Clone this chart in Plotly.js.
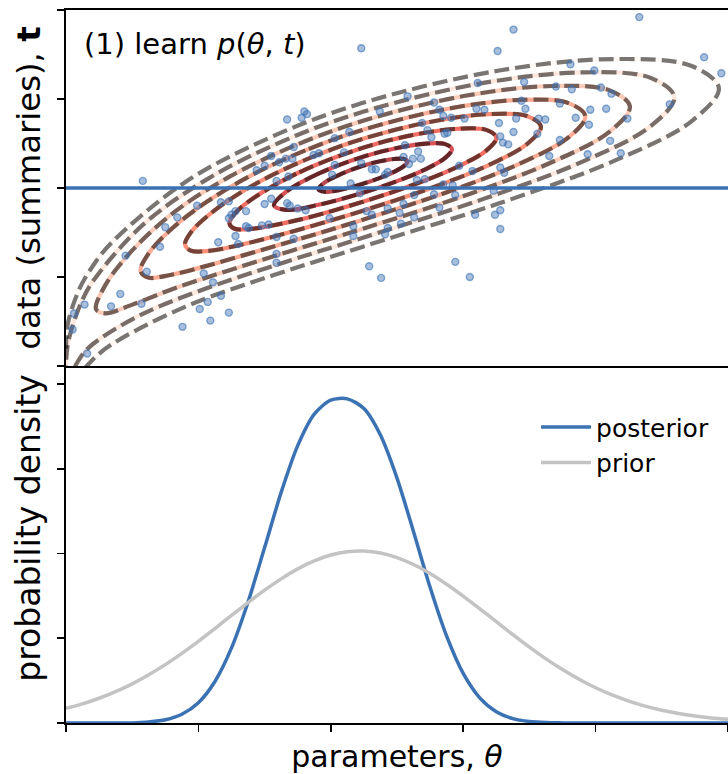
<!DOCTYPE html>
<html>
<head>
<meta charset="utf-8">
<script src="https://cdn.plot.ly/plotly-3.0.1.min.js"></script>
<style>html,body{margin:0;padding:0;background:#fff;}#chart{width:728px;height:774px;}</style>
</head>
<body>
<div id="chart"></div>
<script>
// ---- bottom panel: densities over the parameter grid ----
const thetaGrid = [0,0.125,0.25,0.375,0.5,0.625,0.75,0.875,1,1.125,1.25,1.375,1.5,1.625,1.75,1.875,2,2.125,2.25,2.375,2.5,
  2.625,2.75,2.875,3,3.125,3.25,3.375,3.5,3.625,3.75,3.875,4,4.125,4.25,4.375,4.5,4.625,4.75,4.875,5];
const posterior = [0,0,0,0,0.001,0.013,0.039,0.104,0.240,0.490,0.886,1.428,2.070,2.721,3.273,3.645,3.810,3.825,3.711,3.398,2.890,
  2.257,1.601,1.024,0.585,0.297,0.133,0.052,0.018,0.005,0.0013,0,0,0,0,0,0,0,0,0,0];
const prior = [0.173,0.226,0.292,0.370,0.462,0.569,0.689,0.822,0.964,1.115,1.269,1.421,1.567,1.701,1.819,1.913,1.982,2.021,2.029,2.006,1.952,
  1.870,1.765,1.638,1.498,1.348,1.195,1.042,0.895,0.757,0.630,0.516,0.416,0.331,0.259,0.199,0.151,0.113,0.083,0.060,0.043];

// ---- top panel: observed summary ----
const tObsTheta = [0,5];
const tObs = [2,2];

// ---- top panel: simulated samples (theta, t) ----
const sampleTheta = [2.23,1.67,1.78,1.80,1.82,0.58,2.37,1.55,1.61,1.66,1.71,1.72,1.87,1.91,2.03,2.10,2.14,2.03,2.31,2.34,2.41,2.43,1.44,1.50,1.59,1.68,2.01,2.15,2.23,
 4.33,3.38,3.26,4.82,4.95,3.81,3.99,2.58,3.11,3.46,3.70,3.82,4.04,4.12,2.78,2.82,2.85,2.91,3.10,3.16,3.44,3.47,3.73,3.96,4.08,4.56,3.01,3.27,3.40,3.57,3.62,3.85,3.95,4.24,
 2.69,2.73,2.76,2.86,2.88,3.28,3.30,3.34,3.38,3.56,3.73,2.56,2.66,2.68,2.62,2.55,2.59,3.65,3.94,4.11,4.19,2.97,3.07,3.28,3.31,2.65,2.71,2.85,2.92,
 0.99,1.17,1.23,1.28,1.23,1.25,1.36,1.50,1.55,1.67,1.69,1.75,1.81,0.84,0.75,0.71,0.45,1.15,1.28,1.30,1.36,1.38,1.48,1.53,1.59,1.72,1.99,2.22,2.27,2.31,2.43,2.17,2.17,2.41,2.43,
 1.59,1.59,1.04,1.11,1.17,1.07,1.01,1.09,1.23,0.88,0.61,0.41,0.57,0.34,0.14,0.06,0.05,0.16,2.29,2.38,3.23,3.28,3.24,3.09,3.28,2.94,3.05,2.78,2.94,2.55,2.52,2.63,2.82,2.53,2.63];
const sampleT = [3.57,2.77,2.79,2.86,2.83,2.08,2.86,2.36,2.29,2.33,2.33,2.46,2.37,2.39,2.56,2.40,2.63,2.26,2.21,2.21,2.15,2.18,2.20,2.25,2.08,2.13,2.15,2.05,2.28,
 3.92,3.78,3.54,3.47,3.29,3.39,3.32,3.03,3.18,3.19,3.14,3.11,3.13,3.06,2.96,2.88,2.81,2.79,2.89,2.88,2.98,2.89,2.95,2.88,2.89,2.94,2.78,2.73,2.78,2.78,2.77,2.79,2.71,2.78,
 2.73,2.65,2.57,2.61,2.62,2.58,2.51,2.49,2.63,2.61,2.54,2.48,2.41,2.33,2.33,2.35,2.27,2.36,2.38,2.53,2.39,2.25,2.19,2.23,2.17,2.09,2.10,2.04,2.03,
 1.80,1.84,1.85,1.74,1.66,1.70,1.74,1.82,1.88,1.83,1.80,1.77,1.75,1.67,1.56,1.34,1.24,1.39,1.46,1.37,1.57,1.55,1.58,1.59,1.45,1.43,1.66,1.94,1.74,1.70,1.77,1.57,1.46,1.48,1.55,
 1.26,1.16,1.04,0.94,0.79,0.72,0.64,0.51,0.60,0.44,1.06,0.81,0.70,0.67,0.69,0.59,0.41,0.14,1.12,0.99,1.97,1.75,1.70,1.70,1.54,1.17,1.00,1.93,1.92,1.82,1.72,1.67,1.78,1.60,1.92];

// ---- top panel: density contour lines of p(theta, t), innermost first ----
const contour1Theta = [2.243,2.075,1.952,1.907,1.952,2.075,2.243,2.372,2.481,2.553,2.579,2.553,2.481,2.372,2.243];
const contour1T     = [2.250,2.156,2.060,1.986,1.958,1.981,2.048,2.114,2.184,2.248,2.298,2.326,2.326,2.300,2.250];
const contour2Theta = [2.243,1.907,1.661,1.571,1.661,1.907,2.243,2.500,2.718,2.864,2.915,2.864,2.718,2.500,2.243];
const contour2T     = [2.351,2.161,1.956,1.805,1.754,1.811,1.947,2.077,2.213,2.339,2.436,2.493,2.499,2.450,2.351];
const contour3Theta = [2.243,1.739,1.370,1.269,1.235,1.269,1.370,1.739,2.243,2.629,2.956,3.174,3.251,3.174,2.956,2.629,2.243];
const contour3T     = [2.452,2.160,1.839,1.701,1.602,1.545,1.536,1.636,1.846,2.039,2.238,2.421,2.566,2.653,2.666,2.599,2.452];
const contour4Theta = [2.243,1.895,1.571,1.293,1.079,0.945,0.899,0.945,1.079,1.293,1.571,1.895,2.243,2.757,3.193,3.485,3.587,3.485,3.193,2.757,2.243];
const contour4T     = [2.553,2.369,2.155,1.925,1.698,1.505,1.365,1.295,1.294,1.353,1.455,1.589,1.745,1.999,2.258,2.497,2.689,2.807,2.830,2.745,2.553];
const contour5Theta = [2.243,1.808,1.403,1.055,0.788,0.620,0.563,0.620,0.788,1.055,1.403,1.808,2.243,2.886,3.431,3.795,3.923,3.795,3.431,2.886,2.243];
const contour5T     = [2.654,2.423,2.145,1.836,1.528,1.256,1.068,0.994,1.023,1.122,1.271,1.447,1.644,1.957,2.276,2.568,2.805,2.954,2.990,2.891,2.654];
const contour6Theta = [2.243,1.721,1.235,0.817,0.497,0.296,0.227,0.296,0.497,0.817,1.235,1.721,2.243,3.015,3.668,4.106,4.259,4.106,3.668,3.015,2.243];
const contour6T     = [2.755,2.473,2.127,1.728,1.293,0.906,0.637,0.592,0.687,0.871,1.077,1.303,1.543,1.916,2.289,2.633,2.915,3.097,3.146,3.036,2.755];
const contour7Theta = [0,0.005,0.02,0.111,0.206,0.580,1.067,1.634,2.243,3.143,3.906,4.416,4.595,4.416,3.906,3.143,2.243,1.634,1.067,0.580,0.206,0.111,0.02,0.005,0];
const contour7T     = [-0.462,-0.296,-0.169,0.102,0.250,0.585,0.876,1.158,1.442,1.872,2.299,2.695,3.021,3.237,3.299,3.178,2.856,2.524,2.100,1.585,0.957,0.700,0.293,0.138,-0.036];
const contour8Theta = [0,0.005,0.02,0.1,0.2,0.342,0.899,1.547,2.243,3.272,4.144,4.726,4.931,4.726,4.144,3.272,2.243,1.547,0.899,0.342,0.2,0.1,0.02,0.005,0];
const contour8T     = [-0.694,-0.527,-0.392,-0.113,0.068,0.240,0.665,1.011,1.341,1.828,2.307,2.752,3.123,3.370,3.449,3.320,2.957,2.571,2.065,1.382,1.118,0.863,0.516,0.369,0.196];

const contourThetas = [contour1Theta,contour2Theta,contour3Theta,contour4Theta,contour5Theta,contour6Theta,contour7Theta,contour8Theta];
const contourTs = [contour1T,contour2T,contour3T,contour4T,contour5T,contour6T,contour7T,contour8T];
const contourColors = ['#a50f15','#cb181d','#ef3b2c','#fb6a4a','#fc9272','#fcbba1','#fee0d2','#fff5f0'];

const BLUE = '#3b72b4';
const traces = [];
contourThetas.forEach((cx, i) => {
  traces.push({x: cx, y: contourTs[i], xaxis: 'x2', yaxis: 'y2', type: 'scatter', mode: 'lines',
    line: {color: contourColors[i], width: 4.2, shape: 'spline', smoothing: 1}, opacity: 0.75,
    showlegend: false, hoverinfo: 'skip'});
});
contourThetas.forEach((cx, i) => {
  traces.push({x: cx, y: contourTs[i], xaxis: 'x2', yaxis: 'y2', type: 'scatter', mode: 'lines',
    line: {color: 'rgba(0,0,0,0.53)', width: 4.2, dash: '15px,6px', shape: 'spline', smoothing: 1},
    showlegend: false, hoverinfo: 'skip'});
});
traces.push({x: sampleTheta, y: sampleT, xaxis: 'x2', yaxis: 'y2', type: 'scatter', mode: 'markers',
  marker: {size: 7, color: 'rgba(59,114,180,0.45)', line: {color: 'rgba(59,114,180,0.6)', width: 1.4}},
  showlegend: false});
traces.push({x: tObsTheta, y: tObs, xaxis: 'x2', yaxis: 'y2', type: 'scatter', mode: 'lines',
  line: {color: BLUE, width: 3.5}, showlegend: false});

traces.push({x: thetaGrid, y: posterior, xaxis: 'x', yaxis: 'y', type: 'scatter', mode: 'lines',
  name: 'posterior', line: {color: BLUE, width: 3.5, shape: 'spline', smoothing: 0.8}});
traces.push({x: thetaGrid, y: prior, xaxis: 'x', yaxis: 'y', type: 'scatter', mode: 'lines',
  name: 'prior', line: {color: '#c3c3c3', width: 3.5, shape: 'spline', smoothing: 0.8}});

const axisStyle = {showline: true, linecolor: '#000', linewidth: 1.8, ticks: 'outside', ticklen: 7,
  tickwidth: 1.6, tickcolor: '#000', showticklabels: false, showgrid: false, zeroline: false,
  dtick: 1, tick0: 0, fixedrange: true};
const split = 357/713;      // top panel starts here (paper fraction)
const lowerTop = 390/713;   // lower axes box extends a little behind the top panel

const layout = {
  width: 728, height: 774,
  margin: {l: 66, r: 0, t: 10, b: 51},
  paper_bgcolor: '#fff', plot_bgcolor: 'rgba(0,0,0,0)',
  font: {family: 'DejaVu Sans', color: '#000'},
  xaxis: Object.assign({}, axisStyle, {domain: [0, 1], anchor: 'y', range: [0, 5],
    title: {text: 'parameters, <i>θ</i>', font: {size: 30}, standoff: 16}, automargin: false}),
  yaxis: Object.assign({}, axisStyle, {domain: [0, lowerTop], anchor: 'x', range: [0, 4.602],
    title: {text: 'probability density', font: {size: 33}, standoff: 7}, automargin: false}),
  xaxis2: Object.assign({}, axisStyle, {domain: [0, 1], anchor: 'y2', range: [0, 5], ticks: '',
    mirror: true, automargin: false}),
  yaxis2: Object.assign({}, axisStyle, {domain: [split, 1], anchor: 'x2', range: [0, 4],
    title: {text: 'data (summaries), <b>t</b>', font: {size: 32.3}, standoff: 7}, automargin: false}),
  legend: {x: 0.71, y: 0.447, xanchor: 'left', yanchor: 'top', font: {size: 25}, itemwidth: 50,
    bgcolor: 'rgba(0,0,0,0)', borderwidth: 0},
  annotations: [{xref: 'paper', yref: 'paper', x: 0.024, y: 0.952, xanchor: 'left', yanchor: 'middle',
    text: '(1) learn <i>p</i>(<i>θ</i>, <i>t</i>)', showarrow: false, font: {size: 29}}]
};

Plotly.newPlot('chart', traces, layout, {staticPlot: true});
</script>
</body>
</html>
